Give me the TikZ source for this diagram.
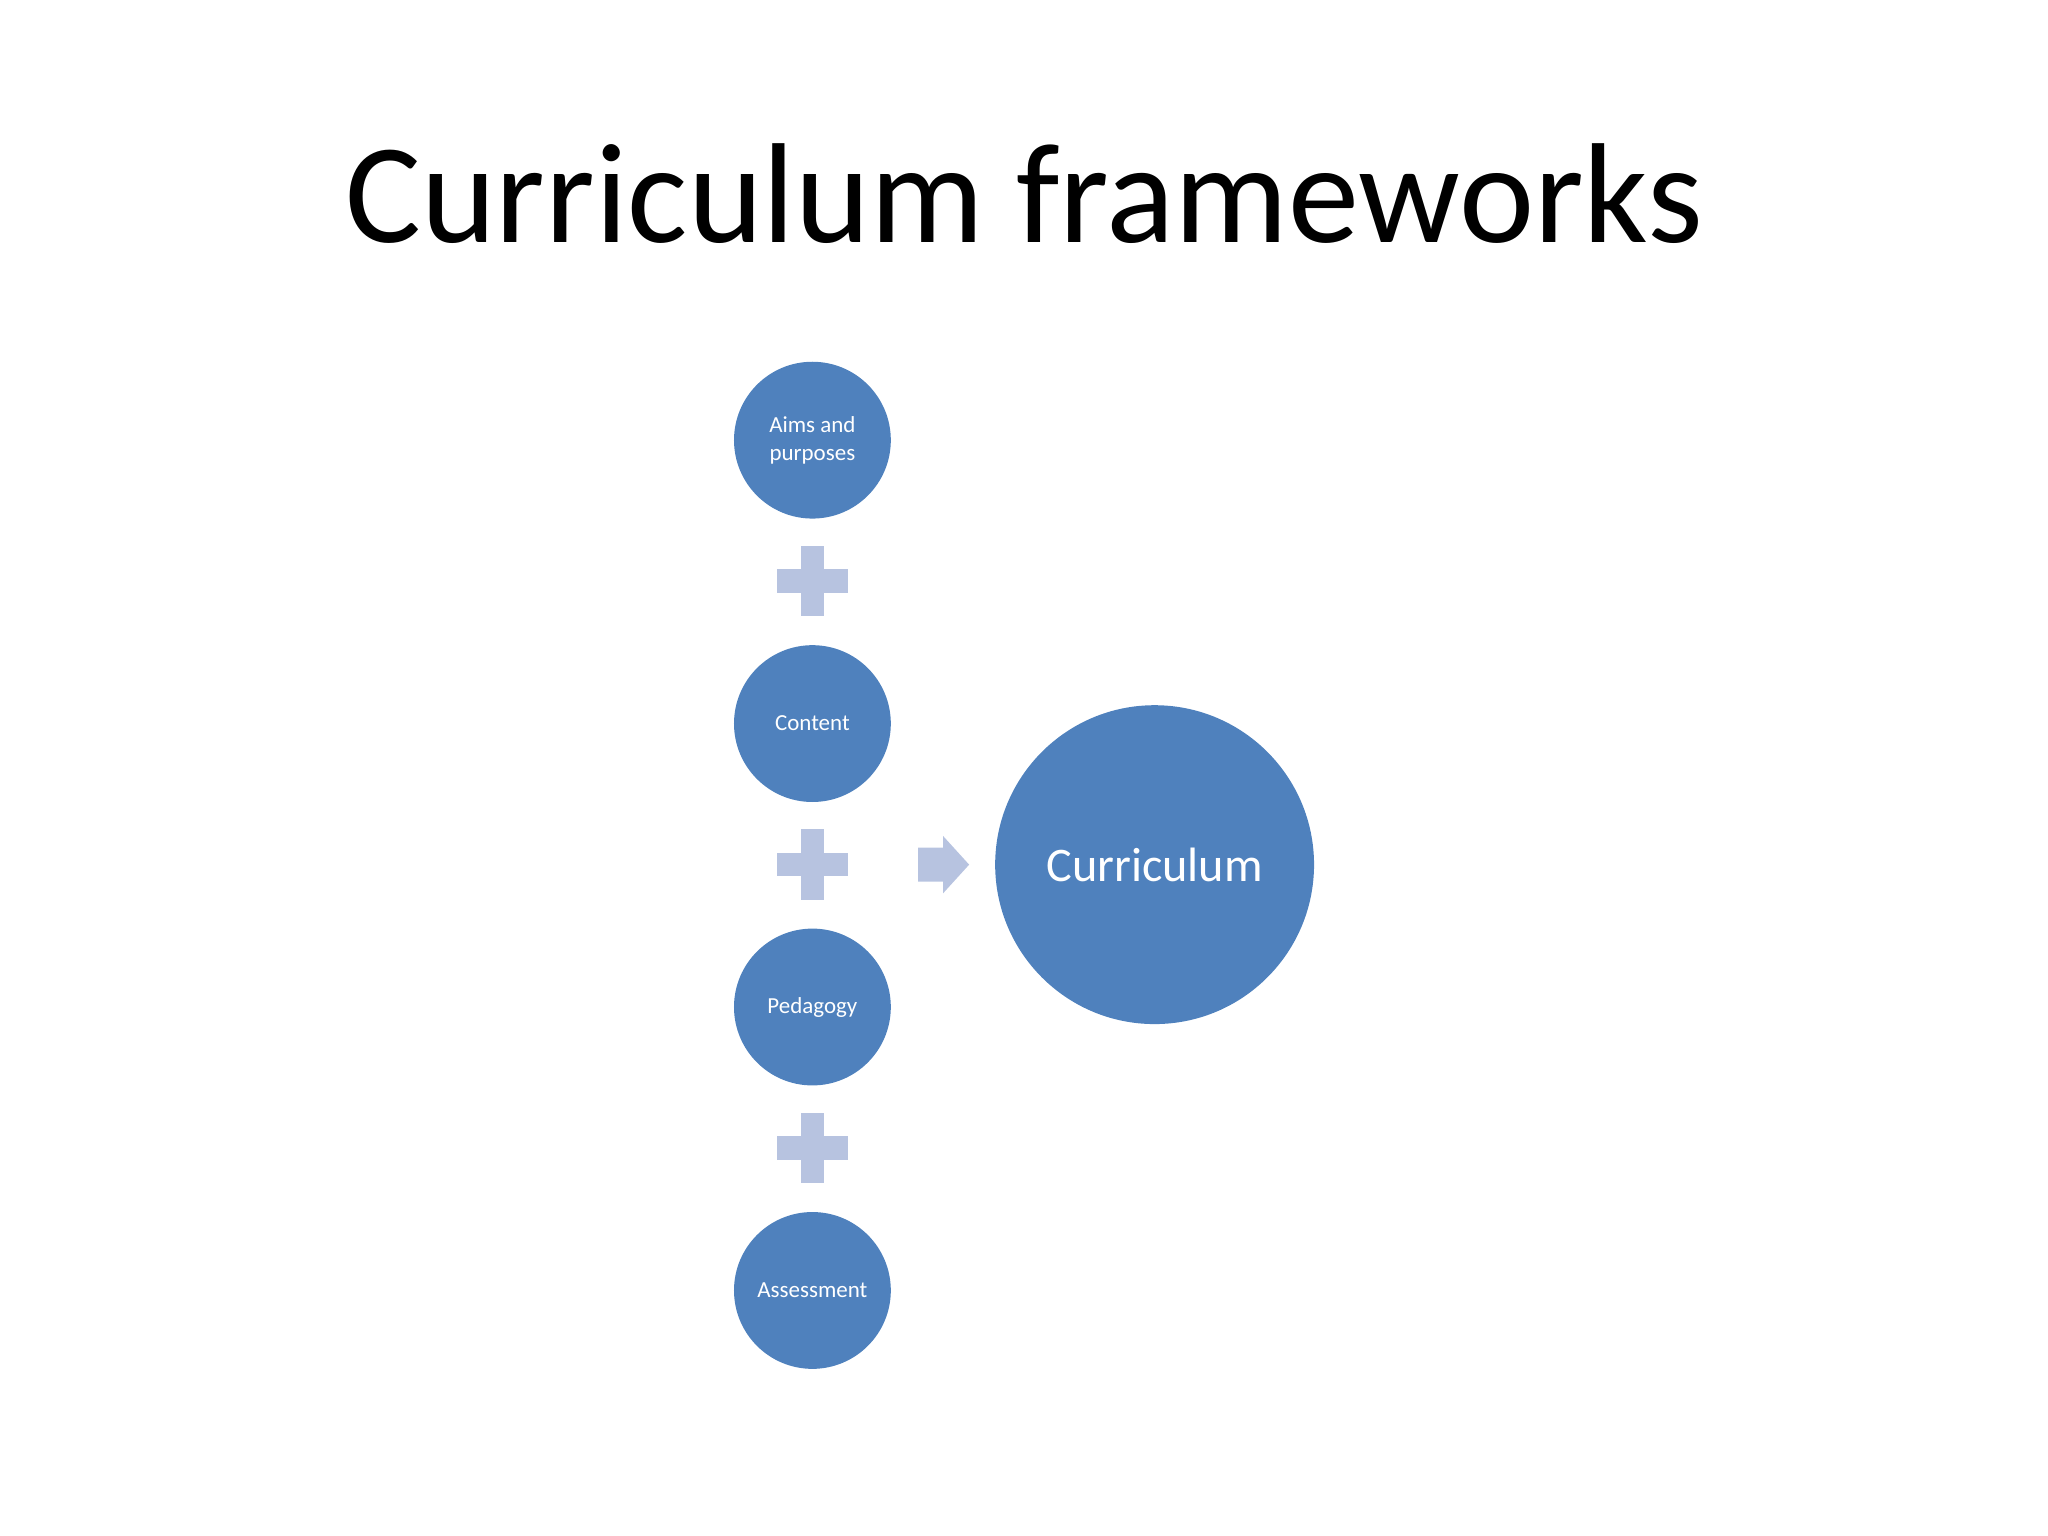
\documentclass[tikz,border=0pt]{standalone}
\usepackage{fontspec}
\setmainfont{Carlito}
\definecolor{cblue}{HTML}{4F81BD}
\definecolor{lblue}{HTML}{B7C3E0}
\begin{document}
\begin{tikzpicture}[x=0.01cm,y=-0.01cm,
  small/.style={circle,fill=cblue,minimum size=1.2cm,inner sep=0pt,text=white,font=\fontsize{5}{6}\selectfont,align=center},
  big/.style={circle,fill=cblue,minimum size=2.44cm,inner sep=0pt,text=white,font=\fontsize{10.5}{12}\selectfont}]
\useasboundingbox (0,0) rectangle (1568,1176);
\node (title) at (784,148) {\fontsize{31}{36}\selectfont Curriculum frameworks};
\node[small] (aims) at (622,337) {Aims and\\purposes};
\node[small] (content) at (622,554) {Content};
\node[small] (ped) at (622,771) {Pedagogy};
\node[small] (ass) at (622,988) {Assessment};
\node[big] (cur) at (884,662) {Curriculum};
\foreach \y in {445,662,879}{
  \fill[lblue] (595,\y-9) rectangle (649,\y+9);
  \fill[lblue] (613,\y-27) rectangle (631,\y+27);
}
\fill[lblue] (703,649) -- (722,649) -- (722,640) -- (742,662) -- (722,684) -- (722,675) -- (703,675) -- cycle;
\end{tikzpicture}
\end{document}
